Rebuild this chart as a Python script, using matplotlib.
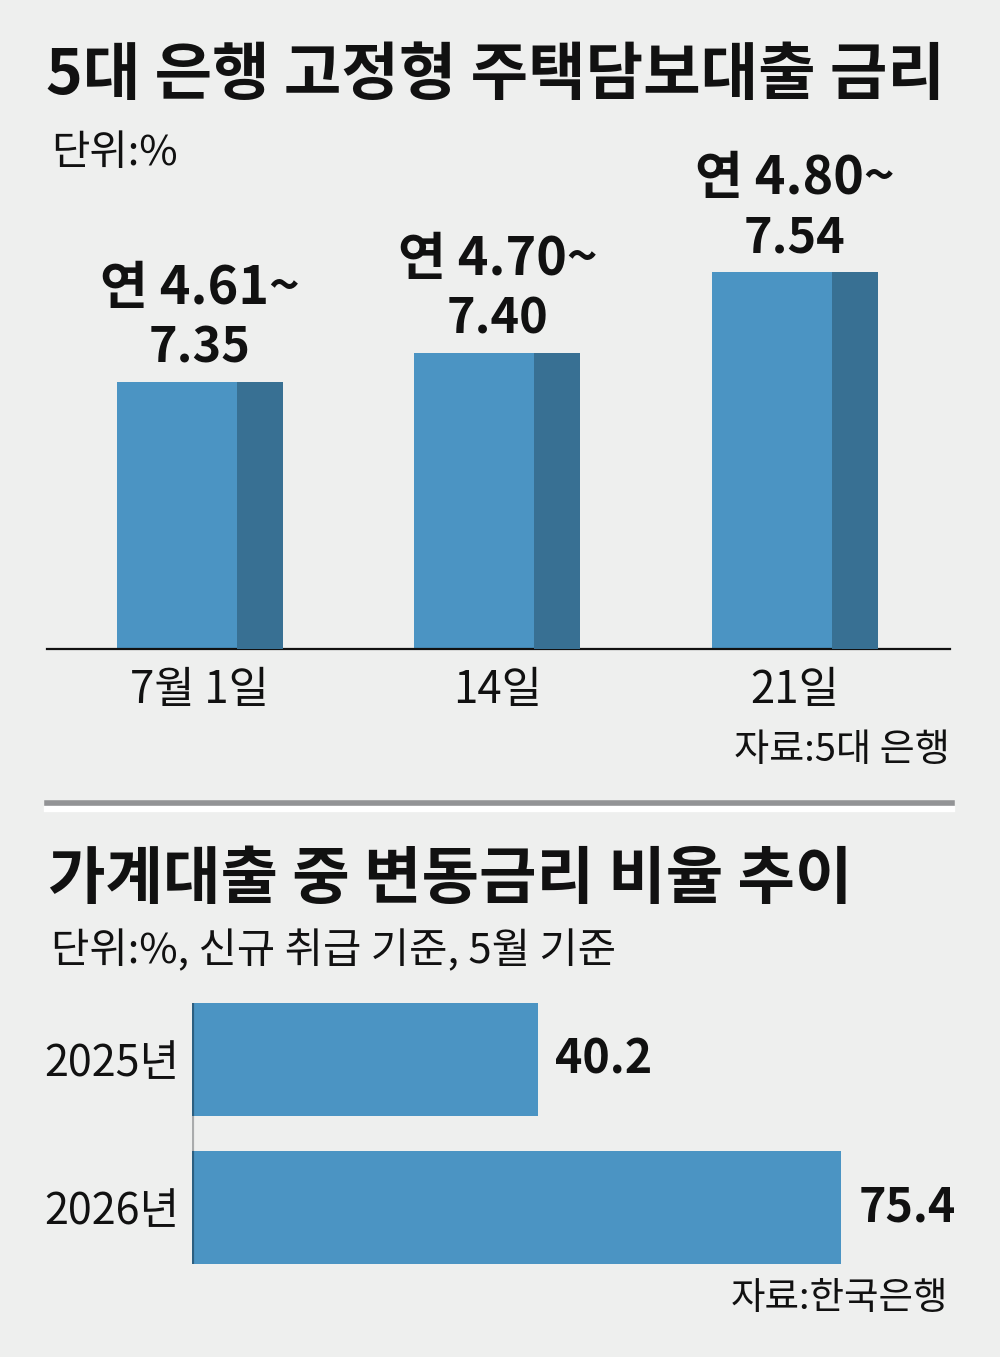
import numpy as np
import matplotlib
matplotlib.use('Agg')
import matplotlib.pyplot as plt

plt.rcParams['font.family'] = ['Noto Sans CJK KR', 'DejaVu Sans']

# top chart: fixed-rate mortgage rate range (upper bound drawn as bar)
dates = ['7월 1일', '14일', '21일']
rate_low = [4.61, 4.70, 4.80]
rate_high = [7.35, 7.40, 7.54]

# bottom chart: variable-rate share of household loans
years = ['2025년', '2026년']
var_share = [40.2, 75.4]

bg = '#eeefee'
light_blue = '#4b94c3'
dark_blue = '#387093'
ink = '#111111'

W, H = 1000, 1357

def px(x, y):
	return x / W, 1 - y / H

def rect(l, t, r, b):
	return [l / W, 1 - b / H, (r - l) / W, (b - t) / H]

fig = plt.figure(figsize=(10, 13.57), dpi=100, facecolor=bg)

# ---- titles
fig.text(*px(46, 76), '5대 은행 고정형 주택담보대출 금리', fontsize=45, fontweight='bold',
	color=ink, va='center', ha='left')
fig.text(*px(51, 153), '단위:%', fontsize=30, color=ink, va='center', ha='left')

# ---- top bar chart
ax = fig.add_axes(rect(47, 150, 950, 649))
ax.set_facecolor(bg)
pos = np.arange(len(dates))
width = 0.558
shade = 0.155
ax.bar(pos, rate_high, width, bottom=0, color=light_blue, zorder=2)
ax.bar(pos + width / 2 - shade, rate_high, shade, align='edge', color=dark_blue, zorder=3)
ax.set_ylim(6.89, 6.89 + 499 / 580)
ax.set_xlim(-0.514, 2.521)
for s in ['top', 'left', 'right']:
	ax.spines[s].set_visible(False)
ax.spines['bottom'].set_linewidth(1.6)
ax.spines['bottom'].set_color(ink)
ax.set_yticks([])
ax.set_xticks(pos)
ax.set_xticklabels(dates, fontsize=31.5, color=ink)
ax.tick_params(axis='x', length=0, pad=13)

for i in range(len(dates)):
	ax.annotate('%.2f' % rate_high[i], (pos[i], rate_high[i]), xytext=(0, 14),
		textcoords='offset points', ha='center', va='baseline', fontsize=35,
		fontweight='bold', color=ink)
	ax.annotate('연 %.2f~' % rate_low[i], (pos[i], rate_high[i]), xytext=(0, 56),
		textcoords='offset points', ha='center', va='baseline', fontsize=37.5,
		fontweight='bold', color=ink)

fig.text(*px(950, 751), '자료:5대 은행', fontsize=27.5, color=ink, va='center', ha='right')

# ---- separator
fig.add_artist(plt.Line2D([47 / W, 952 / W], [1 - 809 / H] * 2, color='white', lw=4.5))
fig.add_artist(plt.Line2D([47 / W, 952 / W], [1 - 803 / H] * 2, color='#929395', lw=4))

# ---- second title
fig.text(*px(48, 880), '가계대출 중 변동금리 비율 추이', fontsize=45, fontweight='bold',
	color=ink, va='center', ha='left')
fig.text(*px(51, 951), '단위:%, 신규 취급 기준, 5월 기준', fontsize=30, color=ink,
	va='center', ha='left')

# ---- horizontal bar chart
ax2 = fig.add_axes(rect(192, 980, 950, 1280))
ax2.set_facecolor(bg)
ypos = np.arange(len(years))
bh = 0.764
ax2.axvline(0, ymin=0.2, ymax=0.8, color='#a9abac', lw=3, zorder=1)
ax2.barh(ypos, var_share, bh, color=light_blue, zorder=2)
for i in range(len(years)):
	ax2.vlines(0, ypos[i] - bh / 2, ypos[i] + bh / 2, color='#2d5f80', lw=3, zorder=3)
	ax2.annotate('%.1f' % var_share[i], (var_share[i], ypos[i]), xytext=(12, 0),
		textcoords='offset points', ha='left', va='center', fontsize=33.5,
		fontweight='bold', color=ink)
ax2.set_xlim(0, 88.0)
ax2.set_ylim(1.49, -0.537)
for s in ax2.spines.values():
	s.set_visible(False)
ax2.set_xticks([])
ax2.set_yticks(ypos)
ax2.set_yticklabels(years, fontsize=31, color=ink)
ax2.tick_params(axis='y', length=0, pad=9)

fig.text(*px(948, 1299), '자료:한국은행', fontsize=27, color=ink, va='center', ha='right')

plt.savefig('out.png', dpi=100, facecolor=bg)
plt.close()
